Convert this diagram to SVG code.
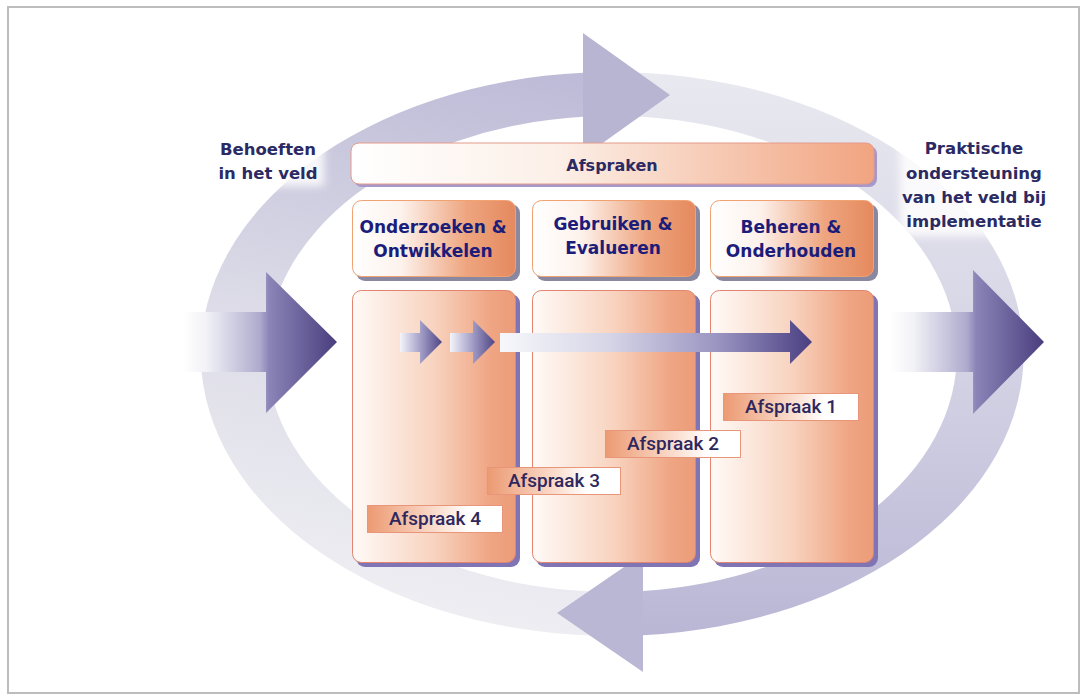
<svg xmlns="http://www.w3.org/2000/svg" width="1087" height="700" viewBox="0 0 1087 700">
  <defs>
    <style>
      .head { font-family: "DejaVu Sans", "Liberation Sans", sans-serif; font-weight: bold; font-size: 17px; fill: #1c1c7a; text-anchor: middle; }
      .side { font-family: "DejaVu Sans", "Liberation Sans", sans-serif; font-weight: bold; font-size: 16.5px; fill: #2b2a63; text-anchor: middle; }
      .bar  { font-family: "DejaVu Sans", "Liberation Sans", sans-serif; font-weight: bold; font-size: 16px; fill: #2b2a63; text-anchor: middle; }
      .lbl  { font-family: Roboto, "Liberation Sans", sans-serif; font-weight: 500; font-size: 19px; fill: #2e275e; text-anchor: middle; }
      .colbox { fill: url(#gCol); stroke: #e2846f; stroke-width: 1; }
      .colshadow { fill: #8075b4; }
      .hdrbox { fill: url(#gHdr); stroke: #f0a272; stroke-width: 1; }
      .hdrshadow { fill: #8a88a0; }
      .tag { fill: url(#gTag); stroke: #e8957a; stroke-width: 1; }
      .halo { fill: #ffffff; opacity: 0.85; filter: url(#soft); }
    </style>
    <filter id="soft" x="-20%" y="-20%" width="140%" height="140%">
      <feGaussianBlur stdDeviation="4"/>
    </filter>
    <!-- cycle band: upper arc fades in from the lower left -->
    <linearGradient id="gArcA" gradientUnits="userSpaceOnUse" x1="450" y1="650" x2="580" y2="80">
      <stop offset="0" stop-color="#f0f0f4"/>
      <stop offset="0.5" stop-color="#dcdbe7"/>
      <stop offset="1" stop-color="#bdbbd7"/>
    </linearGradient>
    <!-- cycle band: lower arc fades in from the top -->
    <linearGradient id="gArcB" gradientUnits="userSpaceOnUse" x1="700" y1="70" x2="700" y2="640">
      <stop offset="0" stop-color="#e9e9f0"/>
      <stop offset="0.5" stop-color="#d5d4e5"/>
      <stop offset="1" stop-color="#b9b6d5"/>
    </linearGradient>
    <linearGradient id="gInL" gradientUnits="userSpaceOnUse" x1="183" y1="0" x2="337" y2="0">
      <stop offset="0" stop-color="#ffffff"/>
      <stop offset="0.15" stop-color="#f2f2f7"/>
      <stop offset="0.5" stop-color="#aeaacd"/>
      <stop offset="0.56" stop-color="#8a84b7"/>
      <stop offset="1" stop-color="#4a3e7e"/>
    </linearGradient>
    <linearGradient id="gOutR" gradientUnits="userSpaceOnUse" x1="890" y1="0" x2="1044" y2="0">
      <stop offset="0" stop-color="#ffffff"/>
      <stop offset="0.15" stop-color="#f2f2f7"/>
      <stop offset="0.5" stop-color="#aeaacd"/>
      <stop offset="0.56" stop-color="#8a84b7"/>
      <stop offset="1" stop-color="#4a3e7e"/>
    </linearGradient>
    <linearGradient id="gStep" x1="0" y1="0" x2="1" y2="0">
      <stop offset="0" stop-color="#f4f4fa"/>
      <stop offset="0.45" stop-color="#aaa6cc"/>
      <stop offset="1" stop-color="#4e4586"/>
    </linearGradient>
    <linearGradient id="gLong" gradientUnits="userSpaceOnUse" x1="500" y1="0" x2="812" y2="0">
      <stop offset="0" stop-color="#f7f7fb"/>
      <stop offset="0.35" stop-color="#d6d5e7"/>
      <stop offset="0.7" stop-color="#9994c1"/>
      <stop offset="0.93" stop-color="#5d5391"/>
      <stop offset="1" stop-color="#4a3f80"/>
    </linearGradient>
    <linearGradient id="gCol" x1="0" y1="0" x2="1" y2="0">
      <stop offset="0" stop-color="#fffaf7"/>
      <stop offset="0.5" stop-color="#f8d3bf"/>
      <stop offset="0.85" stop-color="#efa583"/>
      <stop offset="1" stop-color="#ec9c78"/>
    </linearGradient>
    <linearGradient id="gHdr" x1="0" y1="0" x2="1" y2="0">
      <stop offset="0" stop-color="#ffffff"/>
      <stop offset="0.3" stop-color="#fdf2ec"/>
      <stop offset="0.7" stop-color="#eea57f"/>
      <stop offset="1" stop-color="#e5895e"/>
    </linearGradient>
    <linearGradient id="gBar" x1="0" y1="0" x2="1" y2="0">
      <stop offset="0" stop-color="#ffffff"/>
      <stop offset="0.4" stop-color="#fcefe7"/>
      <stop offset="1" stop-color="#f1a480"/>
    </linearGradient>
    <linearGradient id="gTag" x1="0" y1="0" x2="1" y2="0">
      <stop offset="0" stop-color="#ec9a72"/>
      <stop offset="0.55" stop-color="#fbe2d5"/>
      <stop offset="0.75" stop-color="#ffffff"/>
      <stop offset="1" stop-color="#ffffff"/>
    </linearGradient>
  </defs>

  <rect x="0" y="0" width="1087" height="700" fill="#ffffff"/>
  <rect x="8" y="7" width="1071" height="686" fill="none" stroke="#bdbdbd" stroke-width="2"/>

  <g id="connectors">
    <!-- cycle around the work area -->
    <path d="M594.7,635.7 A412,282 0 0 1 583.2,72.7 L583,116.8 A345,238 0 0 0 595,591.7 Z" fill="url(#gArcA)"/>
    <path d="M630,72.3 A412,282 0 0 1 643,635.2 L643,591 A345,238 0 0 0 630,116.3 Z" fill="url(#gArcB)"/>
    <polygon points="583,33 670,95 583,157" fill="#b8b5d3"/>
    <polygon points="643,554 557,613 643,672" fill="#bab7d5"/>
    <!-- incoming and outgoing arrows -->
    <path d="M183,312 H266 V272 L337,342 L266,413 V372 H183 Z" fill="url(#gInL)"/>
    <path d="M890,312 H973 V270 L1044,342 L973,414 V372 H890 Z" fill="url(#gOutR)"/>
  </g>

  <g id="needs">
    <rect class="halo" x="214" y="138" width="110" height="48"/>
    <text class="side" x="268" y="155">Behoeften</text>
    <text class="side" x="268" y="179">in het veld</text>
  </g>

  <g id="support">
    <rect class="halo" x="900" y="136" width="150" height="100"/>
    <text class="side" x="974" y="154">Praktische</text>
    <text class="side" x="974" y="179">ondersteuning</text>
    <text class="side" x="974" y="203">van het veld bij</text>
    <text class="side" x="974" y="227">implementatie</text>
  </g>

  <g id="afspraken">
    <rect x="354" y="146" width="523" height="41" rx="8" fill="#a699c9"/>
    <rect x="351" y="143" width="523" height="41" rx="8" fill="url(#gBar)" stroke="#e49a8a" stroke-width="1"/>
    <text class="bar" x="612" y="171">Afspraken</text>
  </g>

  <g id="onderzoeken">
    <rect class="hdrshadow" x="356" y="204" width="164" height="77" rx="9"/>
    <rect class="hdrbox" x="352.5" y="200.5" width="163" height="76" rx="9"/>
    <text class="head" x="433" y="233">Onderzoeken &amp;</text>
    <text class="head" x="433" y="257">Ontwikkelen</text>
  </g>

  <g id="gebruiken">
    <rect class="hdrshadow" x="536" y="204" width="164" height="77" rx="9"/>
    <rect class="hdrbox" x="532.5" y="200.5" width="163" height="76" rx="9"/>
    <text class="head" x="613" y="230">Gebruiken &amp;</text>
    <text class="head" x="613" y="254">Evalueren</text>
  </g>

  <g id="beheren">
    <rect class="hdrshadow" x="714" y="204" width="164" height="77" rx="9"/>
    <rect class="hdrbox" x="710.5" y="200.5" width="163" height="76" rx="9"/>
    <text class="head" x="791" y="233">Beheren &amp;</text>
    <text class="head" x="791" y="257">Onderhouden</text>
  </g>

  <g id="kolom-onderzoeken">
    <rect class="colshadow" x="356" y="294" width="164" height="273" rx="9"/>
    <rect class="colbox" x="352.5" y="290.5" width="163" height="272" rx="9"/>
  </g>
  <g id="kolom-gebruiken">
    <rect class="colshadow" x="536" y="294" width="164" height="273" rx="9"/>
    <rect class="colbox" x="532.5" y="290.5" width="163" height="272" rx="9"/>
  </g>
  <g id="kolom-beheren">
    <rect class="colshadow" x="714" y="294" width="164" height="273" rx="9"/>
    <rect class="colbox" x="710.5" y="290.5" width="163" height="272" rx="9"/>
  </g>

  <g id="doorloop">
    <path d="M400,333 H420 V320 L442,342 L420,364 V352 H400 Z" fill="url(#gStep)"/>
    <path d="M450,333 H473 V320 L495,342 L473,364 V352 H450 Z" fill="url(#gStep)"/>
    <path d="M500,333 H790 V320 L812,342 L790,364 V352 H500 Z" fill="url(#gLong)"/>
  </g>

  <g id="afspraak-1">
    <rect class="tag" x="723.5" y="393.5" width="135" height="27"/>
    <text class="lbl" x="791" y="413">Afspraak 1</text>
  </g>
  <g id="afspraak-2">
    <rect class="tag" x="605.5" y="430.5" width="135" height="27"/>
    <text class="lbl" x="673" y="450">Afspraak 2</text>
  </g>
  <g id="afspraak-3">
    <rect class="tag" x="487.5" y="467.5" width="133" height="27"/>
    <text class="lbl" x="554" y="487">Afspraak 3</text>
  </g>
  <g id="afspraak-4">
    <rect class="tag" x="367.5" y="505.5" width="135" height="27"/>
    <text class="lbl" x="435" y="525">Afspraak 4</text>
  </g>
</svg>
